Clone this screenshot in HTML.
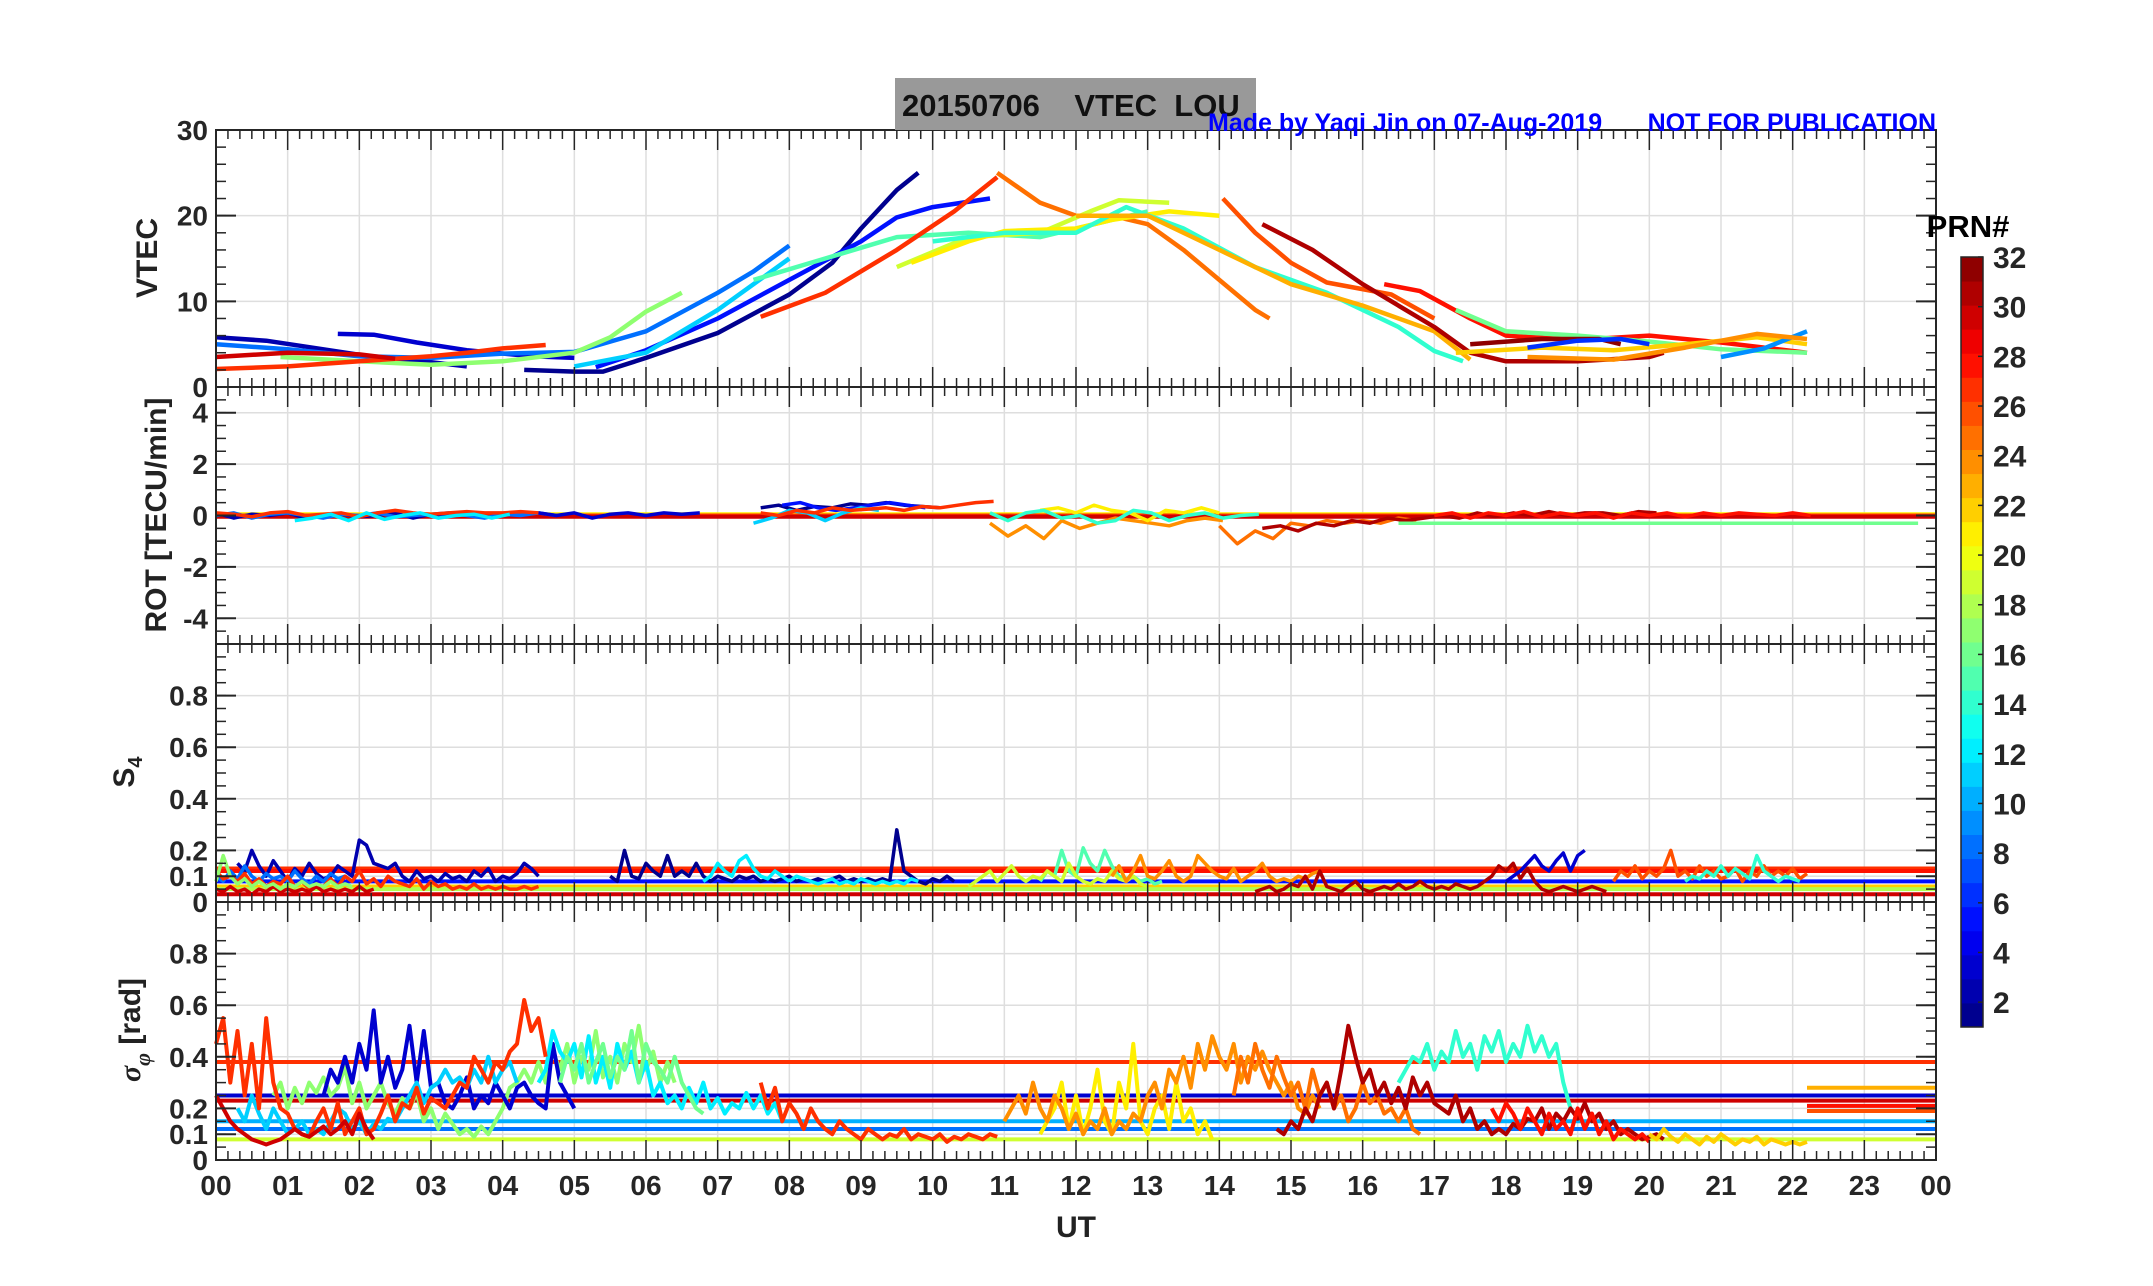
<!DOCTYPE html>
<html><head><meta charset="utf-8"><style>
body{margin:0;background:#fff}
svg{display:block}
text{font-family:"Liberation Sans",sans-serif;font-weight:bold}
</style></head><body>
<svg id="fig" width="2153" height="1286" viewBox="0 0 2153 1286">
<g id="grid"></g>
<g id="marks"></g>
<g id="axes"></g>
<rect x="895" y="78" width="361" height="52" fill="#999999"/>
<text x="902" y="116" font-size="31" fill="#111" xml:space="preserve">20150706    VTEC  LOU</text>
<text x="1208" y="131" font-size="25" fill="#0000ff">Made by Yaqi Jin on 07-Aug-2019</text>
<text x="1936" y="131" text-anchor="end" font-size="25" fill="#0000ff">NOT FOR PUBLICATION</text>
<text x="157" y="258" font-size="30" fill="#222" text-anchor="middle" transform="rotate(-90 157 258)">VTEC</text>
<text x="166" y="515" font-size="30" fill="#222" text-anchor="middle" transform="rotate(-90 166 515)">ROT [TECU/min]</text>
<text x="134" y="772" font-size="30" fill="#222" text-anchor="middle" transform="rotate(-90 134 772)">S<tspan font-size="20" dy="8">4</tspan></text>
<text x="140" y="1030" font-size="30" fill="#222" text-anchor="middle" transform="rotate(-90 140 1030)"><tspan font-family="Liberation Serif" font-style="italic">σ</tspan><tspan font-size="22" dy="10" font-family="Liberation Serif" font-style="italic">φ</tspan><tspan dy="-10"> [rad]</tspan></text>
<text x="1076" y="1237" font-size="30" fill="#222" text-anchor="middle">UT</text>
<text x="1968" y="237" font-size="31" fill="#000" text-anchor="middle">PRN#</text>
<g id="cbar"></g>
</svg>
<script>
// ---------- data ----------
const hourLabels=["00","01","02","03","04","05","06","07","08","09","10","11","12","13","14","15","16","17","18","19","20","21","22","23","00"];
const vtecTicks=[0,10,20,30];
const rotTicks=[-4,-2,0,2,4];
const s4Ticks=[0,0.1,0.2,0.4,0.6,0.8];
const sigTicks=[0,0.1,0.2,0.4,0.6,0.8];
const cbarTicks=[2,4,6,8,10,12,14,16,18,20,22,24,26,28,30,32];
// VTEC series: prn, then [hour,TECU] pairs
const vtecPRN=[2,3,1,5,11,8,17,27,30,15,27,25,19,21,14,23,26,31,28,16,32,22,9,6,24];
const vtecPts=[
[[0,5.8],[0.7,5.4],[1.5,4.4],[2.2,3.5],[3,2.9],[3.5,2.4]],
[[1.7,6.2],[2.2,6.1],[2.8,5.2],[3.5,4.3],[4.4,3.6],[5,3.4]],
[[4.3,2],[5,1.8],[5.4,1.8],[6,3.4],[7,6.3],[8,10.8],[8.6,14.5],[9,18.5],[9.5,23],[9.8,25]],
[[5.3,2.3],[6,4.3],[7,8],[8,12.5],[9,17],[9.5,19.8],[10,21],[10.8,22]],
[[5,2.4],[6,4],[7,9],[7.5,12],[8,15]],
[[0,5],[1,4.4],[2,3.6],[3,3.4],[4,3.9],[5,4.1],[6,6.5],[7,11],[7.5,13.5],[8,16.5]],
[[0.9,3.5],[2,3],[3,2.6],[4,3],[5,4],[5.5,5.8],[6,8.8],[6.5,11]],
[[0,2.1],[1,2.4],[2,3],[3,3.6],[3.5,4],[4,4.5],[4.6,4.9]],
[[0,3.5],[1,4],[2,3.8],[2.5,3.3]],
[[7.5,12.5],[8.5,15],[9.5,17.5],[10.5,18],[11.5,17.5],[12.5,19.5],[13,20.5]],
[[7.6,8.2],[8.5,11],[9.5,16],[10.3,20.5],[10.9,24.5]],
[[10.9,25],[11.5,21.5],[12,20],[12.5,20],[13,19],[13.5,16],[14,12.5],[14.5,9],[14.7,8]],
[[9.5,14],[10.5,17.5],[11.5,18],[12.2,20.5],[12.6,21.8],[13.3,21.5]],
[[9.7,14.5],[10.5,17],[11,18.2],[12,18.5],[12.5,19.5],[13.3,20.5],[14,20]],
[[10,17],[11,18],[12,18],[12.7,21],[13.5,18.5],[14.5,14],[15.5,11],[16.5,7],[17,4.2],[17.4,3]],
[[12,20],[13,20],[14,16],[15,12],[16,9.5],[17,6.5],[17.5,3.2]],
[[14.05,22],[14.5,18],[15,14.5],[15.5,12.2],[16.4,10.8],[17,8]],
[[14.6,19],[15.3,16],[16,12],[17,7],[17.5,4],[18,3],[19,3],[20,3.5],[20.2,4]],
[[16.3,12],[16.8,11.2],[17.5,8],[18,6],[19,5.5],[20,6],[21,5.2],[22.2,4]],
[[17.3,9],[18,6.5],[19,6],[20,5.3],[21,4.4],[22.2,4]],
[[17.5,5],[18.5,5.6],[19.3,5.6],[19.6,5]],
[[17.3,4],[18.5,4.6],[19.5,4.3],[20.5,5],[21.5,5.8],[22.2,5]],
[[21,3.5],[21.6,4.5],[22.2,6.5]],
[[18.3,4.6],[19,5.4],[19.6,5.6],[20,5]],
[[18.3,3.5],[19.5,3.2],[20.5,4.6],[21.5,6.2],[22.2,5.6]]
];
// ROT series (start hour, 0.25h step values)
const rotPRN=[2,8,27,12,3,1,5,11,27,24,21,14,25,31,16,28];
const rotStart=[0,0,0,1.1,4.5,7.6,7.9,7.5,7.6,10.8,11.5,10.8,14,14.6,16.5,17];
const rotVals=[
[0.1,-0.1,0.05,0,0.1,-0.1,0,0.05,-0.05,0,0.1,-0.1,0.05,0],
[0,0.1,-0.1,0.05,0.1,0,-0.1,0.05,0,0.1,-0.05,0,0.05,0.1,0,-0.1,0.05,0,0.1,0],
[0.1,0.05,-0.05,0.1,0.15,0,0.05,0.1,-0.05,0.1,0.2,0.1,0.05,0.1,0.15,0.1,0.1,0.15,0.1],
[-0.2,-0.1,0.05,-0.2,0.1,-0.15,0,0.1,-0.1,0,0.05,-0.1,0.05],
[0.1,0,0.1,-0.1,0.05,0.1,0,0.1,0.05,0.1],
[0.3,0.4,0.2,0.35,0.3,0.45,0.4,0.5,0.4,0.35,0.3],
[0.4,0.5,0.3,0.2,0.3,0.4,0.5,0.4,0.3],
[-0.3,-0.1,0.2,0.1,-0.2,0.1,0.3,0.2],
[0.1,0,0.2,0.1,0.3,0.2,0.25,0.3,0.2,0.35,0.3,0.4,0.5,0.55],
[-0.3,-0.8,-0.4,-0.9,-0.2,-0.5,-0.3,-0.1,-0.2,-0.3,-0.4,-0.2,-0.1,-0.2],
[0.2,0.3,0.1,0.4,0.2,0.1,-0.2,0.2,0.1,0.3,0.1],
[0.1,-0.2,0.1,0.2,-0.1,0,-0.3,-0.2,0.2,0.1,-0.2,0,0.1,-0.1,0,0.05],
[-0.4,-1.1,-0.6,-0.9,-0.3,-0.4,-0.2,-0.3,-0.2,-0.3,-0.1,-0.2],
[-0.5,-0.4,-0.6,-0.3,-0.4,-0.2,-0.3,-0.1,-0.2,-0.1,0,-0.1,0.1,-0.05,0.1,0,0.15,0,0.1,0.1,0,0.15,0.1],
[-0.3,-0.3,-0.3,-0.3,-0.3,-0.3,-0.3,-0.3,-0.3,-0.3,-0.3,-0.3,-0.3,-0.3,-0.3,-0.3,-0.3,-0.3,-0.3,-0.3,-0.3,-0.3,-0.3,-0.3,-0.3,-0.3,-0.3,-0.3,-0.3,-0.3],
[0,0.1,-0.1,0.1,0,0.15,-0.05,0.1,0,0.1,-0.1,0.1,0,0.1,-0.05,0.1,0,0.1,0.05,0,0.1,0]
];
const rotLevels=[0.05,0,-0.05];
const rotLevelPRN=[21,27,30];
// S4 series (start hour, 0.1h step values)
const s4PRN=[2,8,27,30,1,12,17,15,19,24,31,3,26,14];
const s4Start=[0.3,0,0,0,5.5,6.8,0,11.5,10.5,12.5,14.5,18,19.5,20.5];
const s4Vals=[
[0.15,0.12,0.2,0.14,0.1,0.16,0.12,0.08,0.13,0.1,0.15,0.11,0.09,0.1,0.14,0.12,0.1,0.24,0.22,0.15,0.14,0.13,0.15,0.1,0.08,0.12,0.09,0.1,0.08,0.11,0.09,0.1,0.08,0.12,0.1,0.13,0.08,0.1,0.09,0.11,0.15,0.13,0.1],
[0.1,0.08,0.12,0.09,0.14,0.1,0.08,0.11,0.09,0.1,0.08,0.12,0.09,0.07,0.1,0.08,0.11,0.09,0.1,0.08],
[0.12,0.09,0.1,0.08,0.11,0.07,0.09,0.06,0.08,0.07,0.1,0.06,0.08,0.05,0.07,0.06,0.09,0.06,0.1,0.08,0.12,0.07,0.09,0.06,0.1,0.08,0.07,0.06,0.09,0.05,0.08,0.06,0.07,0.05,0.06,0.05,0.07,0.05,0.06,0.05,0.06,0.05,0.05,0.06,0.05,0.06],
[0.05,0.04,0.06,0.04,0.05,0.03,0.05,0.04,0.06,0.04,0.05,0.04,0.05,0.04,0.06,0.04,0.05,0.04,0.05,0.04,0.06,0.04,0.05],
[0.1,0.08,0.2,0.1,0.09,0.15,0.12,0.1,0.18,0.1,0.12,0.1,0.15,0.1,0.08,0.1,0.09,0.08,0.1,0.09,0.1,0.08,0.09,0.08,0.09,0.1,0.08,0.09,0.08,0.09,0.08,0.09,0.1,0.08,0.09,0.08,0.09,0.08,0.09,0.08,0.28,0.12,0.1,0.08,0.07,0.09,0.08,0.1,0.08],
[0.08,0.1,0.15,0.12,0.1,0.16,0.18,0.13,0.1,0.09,0.12,0.1,0.08,0.1,0.09,0.08,0.07,0.08,0.09,0.07,0.08,0.07,0.09,0.08,0.07,0.08,0.07,0.08,0.07,0.09,0.08],
[0.08,0.18,0.1,0.07,0.09,0.06,0.08,0.06,0.07,0.05,0.07,0.06,0.08,0.06,0.07,0.06,0.08,0.06,0.07,0.06],
[0.08,0.12,0.1,0.2,0.12,0.1,0.21,0.15,0.12,0.2,0.14,0.1,0.09,0.1,0.08,0.09,0.07,0.08],
[0.06,0.08,0.1,0.12,0.08,0.11,0.14,0.1,0.08,0.1,0.09,0.12,0.1,0.08,0.15,0.1,0.08,0.07,0.09,0.08,0.12,0.09,0.08,0.1,0.07,0.06],
[0.1,0.14,0.08,0.12,0.18,0.1,0.09,0.12,0.16,0.1,0.08,0.1,0.18,0.15,0.12,0.1,0.09,0.13,0.08,0.1,0.12,0.15,0.1,0.08,0.09,0.08,0.1,0.09,0.11,0.12],
[0.04,0.05,0.06,0.04,0.05,0.07,0.06,0.1,0.05,0.12,0.06,0.05,0.04,0.06,0.08,0.05,0.04,0.05,0.06,0.05,0.07,0.05,0.06,0.08,0.06,0.05,0.06,0.05,0.07,0.06,0.05,0.06,0.08,0.1,0.14,0.12,0.15,0.09,0.13,0.08,0.05,0.04,0.05,0.06,0.05,0.04,0.05,0.06,0.05,0.04],
[0.08,0.1,0.12,0.15,0.18,0.14,0.12,0.16,0.19,0.12,0.18,0.2],
[0.08,0.12,0.1,0.14,0.09,0.12,0.1,0.13,0.2,0.1,0.12,0.09,0.14,0.1,0.12,0.09,0.1,0.13,0.08,0.12,0.1,0.14,0.1,0.12,0.1,0.13,0.09,0.11],
[0.08,0.1,0.09,0.12,0.1,0.14,0.1,0.13,0.11,0.09,0.18,0.12,0.1,0.08,0.1,0.09,0.08]
];
const s4Levels=[0.13,0.12,0.08,0.06,0.05,0.03];
const s4LevelPRN=[27,28,5,22,18,30];
// sigma-phi series (start hour, 0.1h step values)
const sigPRN=[17,3,12,11,16,14,21,24,27,25,31,22,28,30,27];
const sigStart=[0.8,1.5,4.5,0.3,4.8,16.5,11.5,11,0,14.2,14.8,20,17.8,0,7.6];
const sigVals=[
[0.25,0.3,0.2,0.28,0.22,0.3,0.26,0.32,0.25,0.28,0.36,0.22,0.3,0.2,0.25,0.3,0.22,0.18,0.24,0.2,0.26,0.15,0.2,0.12,0.18,0.14,0.1,0.12,0.09,0.13,0.1,0.15,0.2,0.28,0.3,0.35,0.3,0.38,0.3,0.42,0.35,0.45,0.3,0.4,0.35,0.5,0.32,0.4,0.3,0.45,0.38,0.52,0.35,0.42,0.3,0.38,0.3],
[0.25,0.35,0.3,0.4,0.3,0.45,0.35,0.58,0.3,0.4,0.28,0.35,0.52,0.3,0.5,0.28,0.3,0.22,0.2,0.25,0.32,0.2,0.25,0.22,0.3,0.25,0.2,0.28,0.3,0.25,0.22,0.2,0.45,0.3,0.25,0.2],
[0.3,0.35,0.5,0.42,0.38,0.45,0.32,0.48,0.3,0.4,0.28,0.45,0.35,0.42,0.3,0.38,0.25,0.3,0.22,0.25,0.2,0.28,0.22,0.3,0.2,0.24,0.18,0.22,0.2,0.26,0.2,0.25,0.18,0.22,0.15],
[0.2,0.15,0.25,0.18,0.12,0.2,0.15,0.1,0.12,0.15,0.1,0.12,0.1,0.15,0.2,0.18,0.12,0.15,0.1,0.14,0.12,0.16,0.15,0.2,0.25,0.3,0.22,0.28,0.3,0.35,0.3,0.32,0.28,0.35,0.3,0.4,0.3,0.35,0.38,0.3],
[0.3,0.4,0.35,0.45,0.3,0.38,0.45,0.32,0.4,0.35,0.5,0.3,0.45,0.38,0.35,0.3,0.4,0.3,0.25,0.2,0.18],
[0.3,0.35,0.4,0.38,0.45,0.35,0.42,0.38,0.5,0.4,0.45,0.35,0.48,0.42,0.5,0.38,0.45,0.4,0.52,0.42,0.48,0.4,0.45,0.3,0.2],
[0.1,0.15,0.2,0.3,0.12,0.25,0.1,0.2,0.35,0.15,0.1,0.3,0.2,0.45,0.15,0.1,0.2,0.25,0.12,0.3,0.15,0.2,0.1,0.15,0.08],
[0.15,0.2,0.25,0.18,0.3,0.2,0.15,0.25,0.2,0.12,0.18,0.1,0.15,0.12,0.2,0.1,0.15,0.12,0.18,0.15,0.25,0.3,0.2,0.35,0.3,0.4,0.28,0.45,0.35,0.48,0.4,0.35,0.45,0.3,0.4,0.35,0.42,0.35,0.3,0.25,0.3,0.2,0.18,0.25,0.2],
[0.45,0.55,0.3,0.5,0.25,0.45,0.2,0.55,0.3,0.2,0.18,0.12,0.1,0.09,0.15,0.2,0.12,0.22,0.1,0.15,0.2,0.1,0.12,0.18,0.25,0.15,0.22,0.2,0.28,0.18,0.24,0.22,0.2,0.25,0.3,0.28,0.4,0.35,0.3,0.38,0.35,0.42,0.45,0.62,0.5,0.55,0.4],
[0.25,0.4,0.3,0.45,0.35,0.28,0.4,0.32,0.25,0.3,0.2,0.35,0.25,0.3,0.2,0.25,0.15,0.2,0.3,0.22,0.25,0.18,0.2,0.15,0.2,0.12,0.1],
[0.12,0.1,0.15,0.12,0.2,0.15,0.25,0.3,0.2,0.35,0.52,0.4,0.3,0.35,0.25,0.3,0.22,0.28,0.2,0.32,0.25,0.3,0.22,0.2,0.18,0.25,0.15,0.2,0.12,0.15,0.1,0.12,0.1,0.14,0.12,0.16,0.15,0.2,0.12,0.18,0.15,0.2,0.16,0.22,0.15,0.18,0.12,0.15,0.1,0.12,0.1,0.08,0.09,0.1,0.08],
[0.1,0.08,0.12,0.09,0.07,0.1,0.08,0.06,0.09,0.07,0.1,0.08,0.06,0.08,0.07,0.09,0.06,0.08,0.07,0.06,0.07,0.06,0.07],
[0.2,0.15,0.22,0.18,0.12,0.2,0.15,0.1,0.18,0.12,0.15,0.1,0.2,0.12,0.18,0.1,0.15,0.08,0.12,0.1,0.08,0.1,0.07],
[0.25,0.2,0.15,0.12,0.1,0.08,0.07,0.06,0.07,0.08,0.1,0.12,0.1,0.09,0.11,0.13,0.1,0.12,0.15,0.1,0.18,0.12,0.08],
[0.3,0.2,0.28,0.15,0.22,0.18,0.12,0.2,0.15,0.12,0.1,0.15,0.12,0.1,0.08,0.12,0.1,0.08,0.1,0.09,0.12,0.08,0.1,0.09,0.08,0.1,0.07,0.09,0.08,0.1,0.09,0.08,0.1,0.09]
];
const sigLevels=[0.38,0.28,0.25,0.23,0.21,0.19,0.15,0.12,0.08];
const sigLevelPRN=[27,23,3,30,28,26,10,8,19];
const sigLevelStart=[0,22.2,0,0,22.2,22.2,0,0,0];

// ---------- geometry ----------
const L=216,R=1936;
const panels={vtec:[130,387,0,30],rot:[387,644,-5,5],s4:[644,902,0,1],sig:[902,1160,0,1]};
const NS='http://www.w3.org/2000/svg';
const grid=document.getElementById('grid'),marks=document.getElementById('marks'),axes=document.getElementById('axes');
function xS(h){return L+(R-L)*h/24;}
function yS(p,v){const q=panels[p];return q[1]-(v-q[2])/(q[3]-q[2])*(q[1]-q[0]);}
function jet(f){function c(x){return Math.max(0,Math.min(1,x));}
 const r=c(1.5-Math.abs(4*f-3)),g=c(1.5-Math.abs(4*f-2)),b=c(1.5-Math.abs(4*f-1));
 return 'rgb('+Math.round(r*255)+','+Math.round(g*255)+','+Math.round(b*255)+')';}
function prnColor(p){return jet((p-0.5)/32);}
function mk(tag,parent,attrs){const e=document.createElementNS(NS,tag);for(const k in attrs)e.setAttribute(k,attrs[k]);parent.appendChild(e);return e;}
function poly(parent,pts,col,w){const e=mk('polyline',parent,{points:pts.map(p=>p[0].toFixed(1)+','+p[1].toFixed(1)).join(' '),fill:'none',stroke:col,'stroke-width':w,'stroke-linejoin':'round'});return e;}

const yTickMap={vtec:vtecTicks,rot:rotTicks,s4:s4Ticks,sig:sigTicks};
const minorStep={vtec:2,rot:0.5,s4:0.05,sig:0.05};
for(const p in panels){
 const q=panels[p];
 for(let h=1;h<24;h++){const g=mk('line',grid,{x1:xS(h),x2:xS(h),y1:q[0],y2:q[1],stroke:'#dedede','stroke-width':1.5});
  
  }
 yTickMap[p].forEach(v=>{const g=mk('line',grid,{x1:L,x2:R,y1:yS(p,v),y2:yS(p,v),stroke:'#dedede','stroke-width':1.5});
  
  
  const t=mk('text',axes,{x:L-8,y:yS(p,v)+10,'text-anchor':'end','font-size':28,fill:'#262626'});t.textContent=String(v);
  
  
  [[L,L+20],[R-20,R]].forEach(a=>mk('line',axes,{x1:a[0],x2:a[1],y1:yS(p,v),y2:yS(p,v),stroke:'#262626','stroke-width':2}));});
 const ms=minorStep[p];
 for(let v=q[2];v<=q[3]+1e-9;v+=ms){[[L,L+10],[R-10,R]].forEach(a=>mk('line',axes,{x1:a[0],x2:a[1],y1:yS(p,v),y2:yS(p,v),stroke:'#262626','stroke-width':1.5}));}
 for(let m=0;m<=144;m++){const x=xS(m/6),len=(m%6===0)?20:9;
  mk('line',axes,{x1:x,x2:x,y1:q[0],y2:q[0]+len,stroke:'#262626','stroke-width':1.5});
  mk('line',axes,{x1:x,x2:x,y1:q[1],y2:q[1]-len,stroke:'#262626','stroke-width':1.5});}
 const fr=mk('rect',axes,{x:L,y:q[0],width:R-L,height:q[1]-q[0],fill:'none',stroke:'#262626','stroke-width':2});
 
 
}
hourLabels.forEach((s,i)=>{const t=mk('text',axes,{x:xS(i),y:1195,'text-anchor':'middle','font-size':28,fill:'#262626'});t.textContent=s;
 
 });

vtecPts.forEach((s,i)=>{const e=poly(marks,s.map(p=>[xS(p[0]),yS('vtec',p[1])]),prnColor(vtecPRN[i]),4.5);
 
 });
function levels(p,vals,prns,starts){vals.forEach((v,i)=>{const s=starts?starts[i]:0;
 const e=mk('line',marks,{x1:xS(s),x2:xS(24),y1:yS(p,v),y2:yS(p,v),stroke:prnColor(prns[i]),'stroke-width':4});
 
 });}
function series(p,prns,starts,vals,dt,w){vals.forEach((arr,i)=>{
 const pts=arr.map((v,k)=>[xS(starts[i]+k*dt),yS(p,v)]);
 const e=poly(marks,pts,prnColor(prns[i]),w);
 
 });}
levels('rot',rotLevels,rotLevelPRN);
series('rot',rotPRN,rotStart,rotVals,0.25,3.5);
levels('s4',s4Levels,s4LevelPRN);
series('s4',s4PRN,s4Start,s4Vals,0.1,3.5);
levels('sig',sigLevels,sigLevelPRN,sigLevelStart);
series('sig',sigPRN,sigStart,sigVals,0.1,4);

const cb=document.getElementById('cbar');const CT=257,CB=1027,CX=1961,CW=22;
for(let k=1;k<=32;k++){const h=(CB-CT)/32;
 const r=mk('rect',cb,{x:CX,y:CB-k*h,width:CW,height:h+0.5,fill:prnColor(k)});
 
 }
mk('rect',cb,{x:CX,y:CT,width:CW,height:CB-CT,fill:'none',stroke:'#262626','stroke-width':1.5});
cbarTicks.forEach(v=>{const y=CT+(32-v)/31*(CB-CT);
 mk('line',cb,{x1:CX+CW-5,x2:CX+CW,y1:y,y2:y,stroke:'#262626','stroke-width':1.5});
 const t=mk('text',cb,{x:CX+32,y:y+11,'font-size':30,fill:'#262626'});t.textContent=String(v);
 
 });
</script>
</body></html>
